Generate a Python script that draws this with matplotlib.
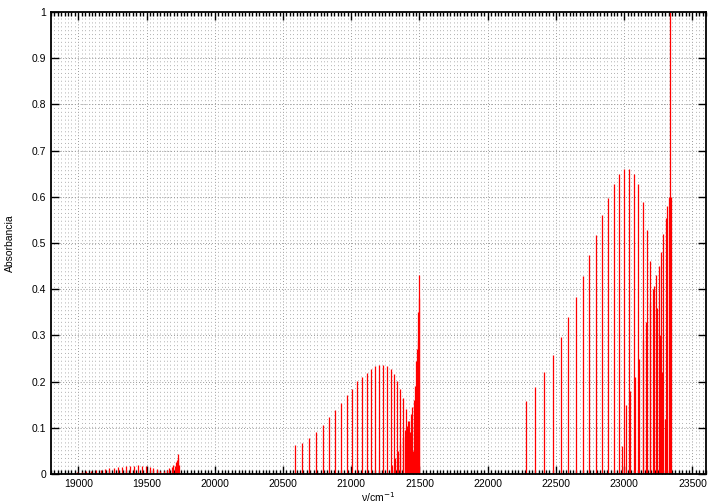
import numpy as np
import matplotlib
matplotlib.use("Agg")
import matplotlib.pyplot as plt
from matplotlib.ticker import MultipleLocator, FuncFormatter

plt.rcParams['font.family'] = ['Liberation Sans', 'DejaVu Sans']

# band 1 (weak, ~19000-19740 cm-1)
band1_nu = [18990, 19025, 19060, 19095, 19130, 19163, 19196, 19228, 19260, 19291,
            19322, 19352, 19382, 19411, 19440, 19468, 19496, 19523, 19550, 19576,
            19602, 19627, 19650, 19668, 19684, 19697, 19708, 19716, 19723, 19729,
            19734, 19739]
band1_abs = [0.004, 0.005, 0.006, 0.007, 0.008, 0.009, 0.011, 0.012, 0.014, 0.015,
             0.016, 0.017, 0.018, 0.018, 0.019, 0.018, 0.018, 0.016, 0.013, 0.010,
             0.007, 0.006, 0.008, 0.012, 0.016, 0.020, 0.018, 0.025, 0.030, 0.043,
             0.035, 0.020]

# band 2, descending branch (~20590-21450 cm-1)
band2a_nu = [20586, 20642, 20693, 20744, 20793, 20839, 20883, 20925, 20967, 21006,
             21045, 21079, 21113, 21147, 21176, 21206, 21235, 21262, 21289, 21316,
             21338, 21360, 21380, 21398, 21414, 21428, 21440, 21451]
band2a_abs = [0.063, 0.067, 0.079, 0.092, 0.107, 0.123, 0.139, 0.154, 0.170, 0.185,
              0.201, 0.211, 0.219, 0.227, 0.233, 0.237, 0.237, 0.233, 0.227, 0.216,
              0.202, 0.185, 0.165, 0.140, 0.115, 0.090, 0.070, 0.050]
# band 2, rising branch (head near 21495 cm-1)
band2b_nu = [21300, 21322, 21342, 21360, 21377, 21393, 21408, 21422, 21435, 21447,
             21458, 21467, 21475, 21481, 21486, 21491, 21495, 21498]
band2b_abs = [0.020, 0.035, 0.050, 0.065, 0.080, 0.095, 0.105, 0.115, 0.130, 0.145,
              0.160, 0.190, 0.245, 0.270, 0.290, 0.350, 0.430, 0.380]

# band 3, descending branch (~22280-23300 cm-1)
band3a_nu = [22281, 22349, 22415, 22476, 22535, 22591, 22645, 22696, 22745, 22794,
             22840, 22884, 22926, 22965, 23001, 23036, 23070, 23104, 23136, 23165,
             23192, 23217, 23239, 23261, 23280, 23300]
band3a_abs = [0.159, 0.188, 0.221, 0.258, 0.297, 0.339, 0.383, 0.429, 0.475, 0.518,
              0.561, 0.597, 0.628, 0.649, 0.661, 0.661, 0.649, 0.628, 0.588, 0.529,
              0.462, 0.406, 0.360, 0.300, 0.220, 0.120]
# band 3, rising branch (head near 23336 cm-1)
band3b_nu = [22985, 23010, 23046, 23080, 23110, 23138, 23162, 23186, 23210, 23232,
             23252, 23270, 23288, 23303, 23316, 23327, 23336, 23340]
band3b_abs = [0.060, 0.150, 0.180, 0.210, 0.250, 0.290, 0.330, 0.370, 0.400, 0.430,
              0.450, 0.480, 0.520, 0.555, 0.580, 0.600, 1.000, 0.600]

nu = band1_nu + band2a_nu + band2b_nu + band3a_nu + band3b_nu
absb = band1_abs + band2a_abs + band2b_abs + band3a_abs + band3b_abs

fig = plt.figure(figsize=(7.2, 5.04), dpi=100)
ax = fig.add_axes([0.0708, 0.0595, 0.9098, 0.9167])

ax.vlines(nu, 0, absb, colors='#ff0000', linewidth=0.9)

ax.set_xlim(18800, 23600)
ax.set_ylim(0, 1)
ax.xaxis.set_major_locator(MultipleLocator(500))
ax.xaxis.set_minor_locator(MultipleLocator(25))
ax.yaxis.set_major_locator(MultipleLocator(0.1))
ax.yaxis.set_major_formatter(FuncFormatter(lambda v, p: '%g' % round(v, 2)))

ax.grid(True, which='major', linestyle=(0, (1, 2)), color='#999999', linewidth=0.7)
ax.grid(True, which='minor', axis='x', linestyle=(0, (1, 3)), color='#b0b0b0', linewidth=0.7)
ax.set_axisbelow(True)

ax.tick_params(which='both', direction='in', top=True, right=True, labelsize=7.5)
ax.tick_params(which='major', length=6, width=1)
ax.tick_params(which='minor', length=3, width=1)
for s in ax.spines.values():
    s.set_linewidth(1.3)

ax.set_ylabel('Absorbancia', fontsize=7.5, labelpad=12)
ax.set_xlabel('ν/cm$^{-1}$', fontsize=7.5, labelpad=1)

fig.savefig('out.png', dpi=100)
